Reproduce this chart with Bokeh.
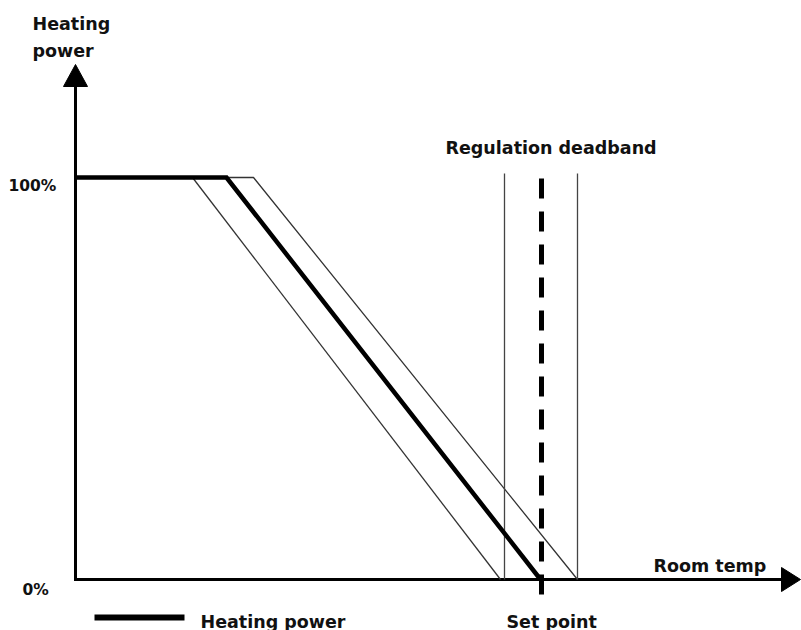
from bokeh.plotting import figure
from bokeh.models import Range1d, ColumnDataSource
from bokeh.embed import file_html
from bokeh.resources import INLINE
from bokeh.core.properties import value

# ---- data (temperature axis in arbitrary units, power in %) ----
power_temp = [0, 151, 465]          # heating power curve (thick)
power_pct = [100, 100, 0]
band_low_temp = [117, 425]          # lower edge of proportional band (thin)
band_low_pct = [100, 0]
band_high_temp = [117, 178, 502]    # upper edge of proportional band (thin)
band_high_pct = [100, 100, 0]
deadband_temps = [429, 502]         # regulation deadband limits
setpoint_temp = 466
tick_labels = ["100%", "0%"]
tick_values = [100, 0]

# ---- scale helpers (reference pixel -> data) ----
PX_PER_PCT = 4.02
def X(px):
    return px - 75
def Y(py):
    return (579 - py) / PX_PER_PCT

W, H = 801, 630
p = figure(width=W, height=H, output_backend="svg", toolbar_location=None,
           x_range=Range1d(X(0), X(W)), y_range=Range1d(Y(H), Y(0)),
           x_axis_location=None, y_axis_location=None, min_border=0,
           background_fill_color="white", border_fill_color="white",
           outline_line_color=None, tools="")
p.grid.visible = False

FONT = value("DejaVu Sans")
FS = "17.5px"
TXT = "#111111"

# axes (drawn as lines with arrow heads)
ax_top = Y(86)
x_end = X(781)
p.line([0, 0, x_end], [ax_top, 0, 0], line_width=3, line_color="black",
       line_join="miter", line_cap="butt")
p.patch([X(63), X(87), X(75)], [ax_top, ax_top, Y(64)], color="black")
p.patch([x_end, x_end, X(800)], [Y(567), Y(591), 0], color="black")

# proportional band edges
p.line(band_low_temp, band_low_pct, line_width=1.3, line_color="#333333")
p.line(band_high_temp, band_high_pct, line_width=1.3, line_color="#333333")

# deadband limits
for t in deadband_temps:
    p.line([t, t], [Y(173), 0], line_width=1.3, line_color="#444444")

# set point dashed line
p.line([setpoint_temp, setpoint_temp], [Y(178), Y(598)], line_width=5,
       line_color="black", line_dash="20 13")

# heating power curve
p.line(power_temp, power_pct, line_width=4.5, line_color="black",
       line_join="miter")

# tick labels (value axis)
ticks = ColumnDataSource(dict(
    x=[X(8), X(22)],
    y=[tick_values[0] - (186 - 178) / PX_PER_PCT, tick_values[1] - (589 - 579) / PX_PER_PCT],
    text=tick_labels,
))
p.text(x="x", y="y", text="text", source=ticks, text_font=FONT,
       text_font_size="15.5px", text_font_style="bold", text_color=TXT,
       text_align="left", text_baseline="alphabetic")

# other texts
labels = ColumnDataSource(dict(
    x=[X(32), X(32), X(445), X(653), X(506), X(200)],
    y=[Y(23), Y(50), Y(147), Y(565), Y(621), Y(621)],
    text=["Heating", "power", "Regulation deadband", "Room temp",
          "Set point", "Heating power"],
))
p.text(x="x", y="y", text="text", source=labels, text_font=FONT,
       text_font_size=FS, text_font_style="bold", text_color=TXT,
       text_align="left", text_baseline="alphabetic")

# legend sample line
p.line([X(94), X(184)], [Y(617), Y(617)], line_width=6, line_color="black")

open("out.html", "w").write(file_html(p, INLINE))
